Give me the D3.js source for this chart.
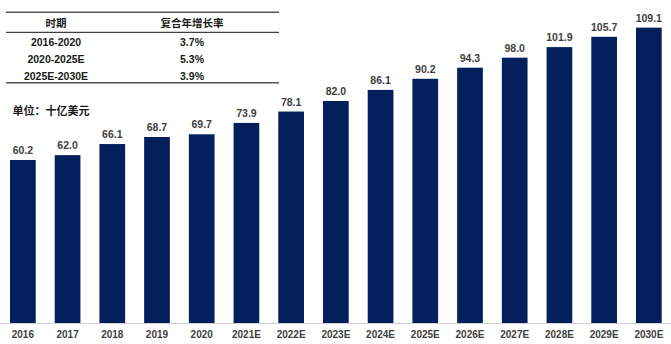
<!DOCTYPE html>
<html>
<head>
<meta charset="utf-8">
<script src="https://cdn.jsdelivr.net/npm/d3@7"></script>
<style>
  html, body { margin: 0; padding: 0; background: #fff; }
  svg { display: block; }
  text { font-family: "Liberation Sans", Arial, "Noto Sans CJK SC", sans-serif; font-weight: bold; }
</style>
</head>
<body>
<svg id="chart" width="671" height="344"></svg>
<script>
const categories = ["2016","2017","2018","2019","2020","2021E","2022E","2023E","2024E","2025E","2026E","2027E","2028E","2029E","2030E"];
const values = [60.2, 62.0, 66.1, 68.7, 69.7, 73.9, 78.1, 82.0, 86.1, 90.2, 94.3, 98.0, 101.9, 105.7, 109.1];

const tableHeader = ["时期", "复合年增长率"];
const tablePeriods = ["2016-2020", "2020-2025E", "2025E-2030E"];
const tableRates = ["3.7%", "5.3%", "3.9%"];
const unitLabel = "单位：十亿美元";

const W = 671, H = 344;
const svg = d3.select("#chart");

const x = d3.scaleBand().domain(categories).range([0.5, 671.2]).paddingInner(0.425).paddingOuter(0.2125);
const y = d3.scaleLinear().domain([0, 119.3]).range([323, 0]);

// baseline axis
const xAxis = d3.axisBottom(x).tickSize(0).tickPadding(7);
const gx = svg.append("g").attr("transform", "translate(0,323.5)").call(xAxis);
gx.select(".domain").remove();
gx.append("line").attr("x1", 0).attr("x2", W).attr("y1", 0).attr("y2", 0)
  .attr("stroke", "#d0d0d0").attr("stroke-width", 1);
gx.selectAll(".tick text")
  .attr("font-size", "10px").attr("fill", "#404040")
  .attr("font-family", "Liberation Sans, Arial, sans-serif").attr("font-weight", "bold");

// bars
svg.append("g").selectAll("rect").data(values).join("rect")
  .attr("x", (d, i) => x(categories[i]))
  .attr("width", x.bandwidth())
  .attr("y", d => y(d))
  .attr("height", d => y(0) - y(d))
  .attr("fill", "#03205d");

// value labels
svg.append("g").selectAll("text").data(values).join("text")
  .attr("x", (d, i) => x(categories[i]) + x.bandwidth() / 2)
  .attr("y", d => y(d) - 6)
  .attr("text-anchor", "middle")
  .attr("font-size", "10.5px")
  .attr("fill", "#404040")
  .text(d => d.toFixed(1));

// table
const tbl = svg.append("g");
const tx0 = 6, tx1 = 279;
tbl.append("line").attr("x1", tx0).attr("x2", tx1).attr("y1", 12.3).attr("y2", 12.3).attr("stroke", "#555").attr("stroke-width", 1.6);
tbl.append("line").attr("x1", tx0).attr("x2", tx1).attr("y1", 32.3).attr("y2", 32.3).attr("stroke", "#111").attr("stroke-width", 1);
tbl.append("line").attr("x1", tx0).attr("x2", tx1).attr("y1", 82.7).attr("y2", 82.7).attr("stroke", "#555").attr("stroke-width", 1.6);

const col1 = 56, col2 = 192;
tbl.append("text").attr("x", col1).attr("y", 27.2).attr("text-anchor", "middle").attr("font-size", "10.5px").attr("fill", "#1a1a1a").text(tableHeader[0]);
tbl.append("text").attr("x", col2).attr("y", 27.2).attr("text-anchor", "middle").attr("font-size", "10.5px").attr("fill", "#1a1a1a").text(tableHeader[1]);
const rowY = [45.5, 62.8, 79.5];
tablePeriods.forEach((p, i) => {
  tbl.append("text").attr("x", col1).attr("y", rowY[i]).attr("text-anchor", "middle").attr("font-size", "10.5px").attr("fill", "#1a1a1a").text(p);
  tbl.append("text").attr("x", col2).attr("y", rowY[i]).attr("text-anchor", "middle").attr("font-size", "10.5px").attr("fill", "#1a1a1a").text(tableRates[i]);
});

// unit label
svg.append("text").attr("x", 12.5).attr("y", 115).attr("font-size", "11px").attr("fill", "#1a1a1a").text(unitLabel);
</script>
</body>
</html>
